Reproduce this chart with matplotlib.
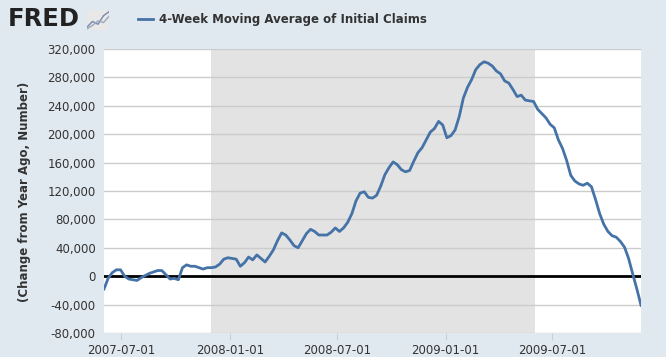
import numpy as np
import pandas as pd
import matplotlib
matplotlib.use('Agg')
import matplotlib.pyplot as plt
import matplotlib.dates as mdates
from matplotlib.ticker import FuncFormatter

# weekly data, week ending Saturday, change from year ago (number)
START = '2007-06-02'
claims_chg = [
    -18000, -3000, 5000, 9000, 9000, 0, -4000, -5000, -6000, -2000,
    1000, 4000, 6000, 8000, 8000, 2000, -4000, -3000, -5000, 12000,
    16000, 14000, 14000, 12000, 10000, 12000, 12000, 13000, 17000, 24000,
    26000, 25000, 24000, 14000, 19000, 27000, 23000, 30000, 25000, 20000,
    28000, 37000, 50000, 61000, 58000, 51000, 43000, 40000, 50000, 60000,
    66000, 63000, 58000, 58000, 58000, 62000, 68000, 63000, 68000, 76000,
    88000, 106000, 117000, 119000, 111000, 110000, 114000, 127000, 143000, 153000,
    161000, 157000, 150000, 147000, 149000, 162000, 174000, 181000, 192000, 203000,
    208000, 218000, 213000, 195000, 198000, 206000, 225000, 251000, 266000, 277000,
    291000, 298000, 302000, 300000, 296000, 289000, 285000, 275000, 272000, 263000,
    253000, 255000, 248000, 247000, 246000, 235000, 229000, 223000, 214000, 209000,
    192000, 180000, 163000, 142000, 134000, 130000, 128000, 131000, 126000, 108000,
    88000, 73000, 63000, 57000, 55000, 49000, 41000, 25000, 3000, -18000,
    -41000,
]
recession = ('2007-12-01', '2009-06-01')
x_ticks = ['2007-07-01', '2008-01-01', '2008-07-01', '2009-01-01', '2009-07-01']
y_ticks = list(range(-80000, 320001, 40000))

dates = pd.date_range(START, periods=len(claims_chg), freq='W-SAT')

BG = '#E1E9F0'
BLUE = '#4572A7'
TXT = '#333333'

fig = plt.figure(figsize=(6.66, 3.57), dpi=100, facecolor=BG)
ax = fig.add_axes([104/666, 1-333/357, 537/666, 284/357])
ax.set_facecolor('white')

ax.axvspan(pd.Timestamp(recession[0]), pd.Timestamp(recession[1]), color='#E3E3E3', lw=0, zorder=0)
for v in y_ticks:
    ax.axhline(v, color='#CCCCCC', lw=1, zorder=1)
ax.axhline(0, color='black', lw=2, zorder=2)
ax.plot(dates, claims_chg, color=BLUE, lw=2, zorder=3)

ax.set_xlim(dates[0], dates[-1])
ax.set_ylim(-80000, 320000)
ax.set_yticks(y_ticks)
ax.yaxis.set_major_formatter(FuncFormatter(lambda v, p: f'{int(v):,}'))
ax.set_xticks([pd.Timestamp(d) for d in x_ticks])
ax.xaxis.set_major_formatter(mdates.DateFormatter('%Y-%m-%d'))
ax.tick_params(axis='y', length=0, pad=6, labelsize=8.5, labelcolor=TXT)
ax.tick_params(axis='x', length=5, color='#C0D0E0', pad=3, labelsize=8.5, labelcolor=TXT)
for s in ax.spines.values():
    s.set_visible(False)

fig.text(25/666, 1-192/357, '(Change from Year Ago, Number)', rotation=90,
         ha='center', va='center', fontsize=8.5, fontweight='bold', color=TXT)

# header: FRED logo + legend
fig.text(8/666, 1-19/357, 'FRED', ha='left', va='center', fontsize=17.5,
         fontweight='bold', color='#222222')
icon = fig.add_axes([87/666, 1-30/357, 22/666, 20/357])
icon.set_facecolor('#E8E8E8')
icon.plot([0, 1, 2, 3, 4], [0.5, 1.5, 1.0, 2.5, 3.2], color='#7788AA', lw=1)
icon.plot([0, 1, 2, 3, 4], [0.2, 0.8, 1.6, 1.3, 2.4], color='#99AABB', lw=1)
icon.set_xlim(0, 4)
icon.set_ylim(0, 3.5)
icon.set_xticks([])
icon.set_yticks([])
for s in icon.spines.values():
    s.set_visible(False)

fig.lines.append(plt.Line2D([138/666, 153/666], [1-19/357, 1-19/357],
                            transform=fig.transFigure, color=BLUE, lw=2))
fig.text(159/666, 1-19/357, '4-Week Moving Average of Initial Claims', ha='left',
         va='center', fontsize=8.5, fontweight='bold', color=TXT)

fig.savefig('out.png', dpi=100, facecolor=BG)
